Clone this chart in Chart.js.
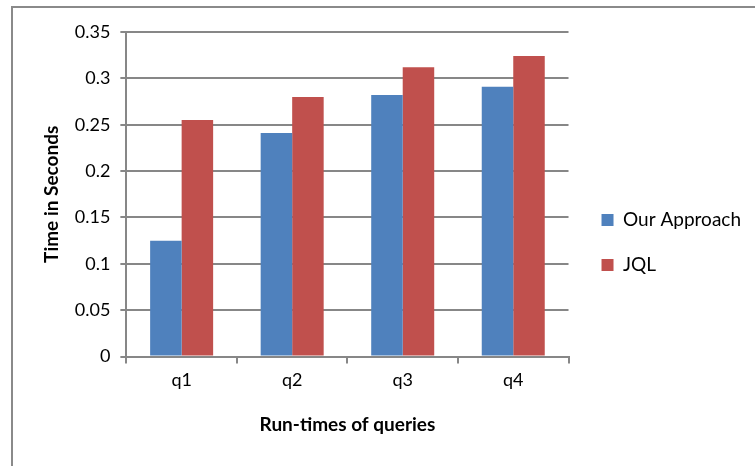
<!DOCTYPE html>
<html>
<head>
<meta charset="utf-8">
<script src="https://cdn.jsdelivr.net/npm/chart.js@4/dist/chart.umd.min.js"></script>
<style>
  html, body { margin: 0; padding: 0; background: #fff; overflow: hidden; }
  #wrap { position: relative; width: 755px; height: 466px; }
  #frame { position: absolute; left: 11px; top: 6px; width: 800px; height: 500px;
           border-left: 2px solid #8a8a8a; border-top: 2px solid #8a8a8a; }
  canvas { position: absolute; left: 0; top: 0; }
</style>
</head>
<body>
<div id="wrap">
  <div id="frame"></div>
  <canvas id="chart" width="755" height="466"></canvas>
</div>
<script>
  const categories = ['q1', 'q2', 'q3', 'q4'];
  const ourApproach = [0.125, 0.241, 0.282, 0.291];
  const jql = [0.255, 0.28, 0.312, 0.324];
  const yTicks = [0, 0.05, 0.1, 0.15, 0.2, 0.25, 0.3, 0.35];

  const gridColor = '#878787';
  const font = 'Lato, "Liberation Sans", sans-serif';

  // push the legend a few px away from the plot, like the Excel original
  const legendGap = {
    id: 'legendGap',
    afterLayout(chart) {
      chart.legend.left += 7;
      chart.legend.right += 7;
    }
  };

  const ctx = document.getElementById('chart');

  new Chart(ctx, {
    type: 'bar',
    data: {
      labels: categories,
      datasets: [{
        label: 'Our Approach',
        data: ourApproach,
        backgroundColor: '#4F81BD',
        barPercentage: 1,
        categoryPercentage: 0.57
      }, {
        label: 'JQL',
        data: jql,
        backgroundColor: '#C0504D',
        barPercentage: 1,
        categoryPercentage: 0.57
      }]
    },
    plugins: [legendGap],
    options: {
      responsive: false,
      animation: false,
      layout: {
        padding: { left: 36, top: 32, right: 11, bottom: 26 }
      },
      plugins: {
        tooltip: { enabled: false },
        legend: {
          position: 'right',
          // empty title only nudges the items down a bit
          title: {
            display: true,
            text: '',
            font: { size: 9, lineHeight: 1 },
            padding: { top: 0, bottom: 4 }
          },
          labels: {
            color: '#000',
            font: { family: font, size: 19 },
            boxWidth: 12,
            boxHeight: 12,
            padding: 26
          }
        }
      },
      scales: {
        x: {
          grid: {
            offset: true,
            drawOnChartArea: false,
            drawTicks: true,
            tickLength: 7,
            color: gridColor,
            lineWidth: 2
          },
          border: { color: gridColor, width: 2 },
          ticks: {
            color: '#000',
            font: { family: font, size: 18 },
            padding: 6
          },
          title: {
            display: true,
            text: 'Run-times of queries',
            color: '#000',
            font: { family: font, size: 19, weight: 'bold' },
            padding: { top: 16 }
          }
        },
        y: {
          min: 0,
          max: 0.35,
          afterBuildTicks: (axis) => {
            axis.ticks = yTicks.map(v => ({ value: v }));
          },
          grid: {
            color: gridColor,
            lineWidth: 2,
            tickLength: 6
          },
          border: { color: gridColor, width: 2 },
          ticks: {
            color: '#000',
            font: { family: font, size: 18 },
            padding: 10,
            callback: (v) => String(Math.round(v * 100) / 100)
          },
          title: {
            display: true,
            text: 'Time in Seconds',
            color: '#000',
            font: { family: font, size: 19, weight: 'bold' },
            padding: { bottom: 2 }
          }
        }
      }
    }
  });
</script>
</body>
</html>
